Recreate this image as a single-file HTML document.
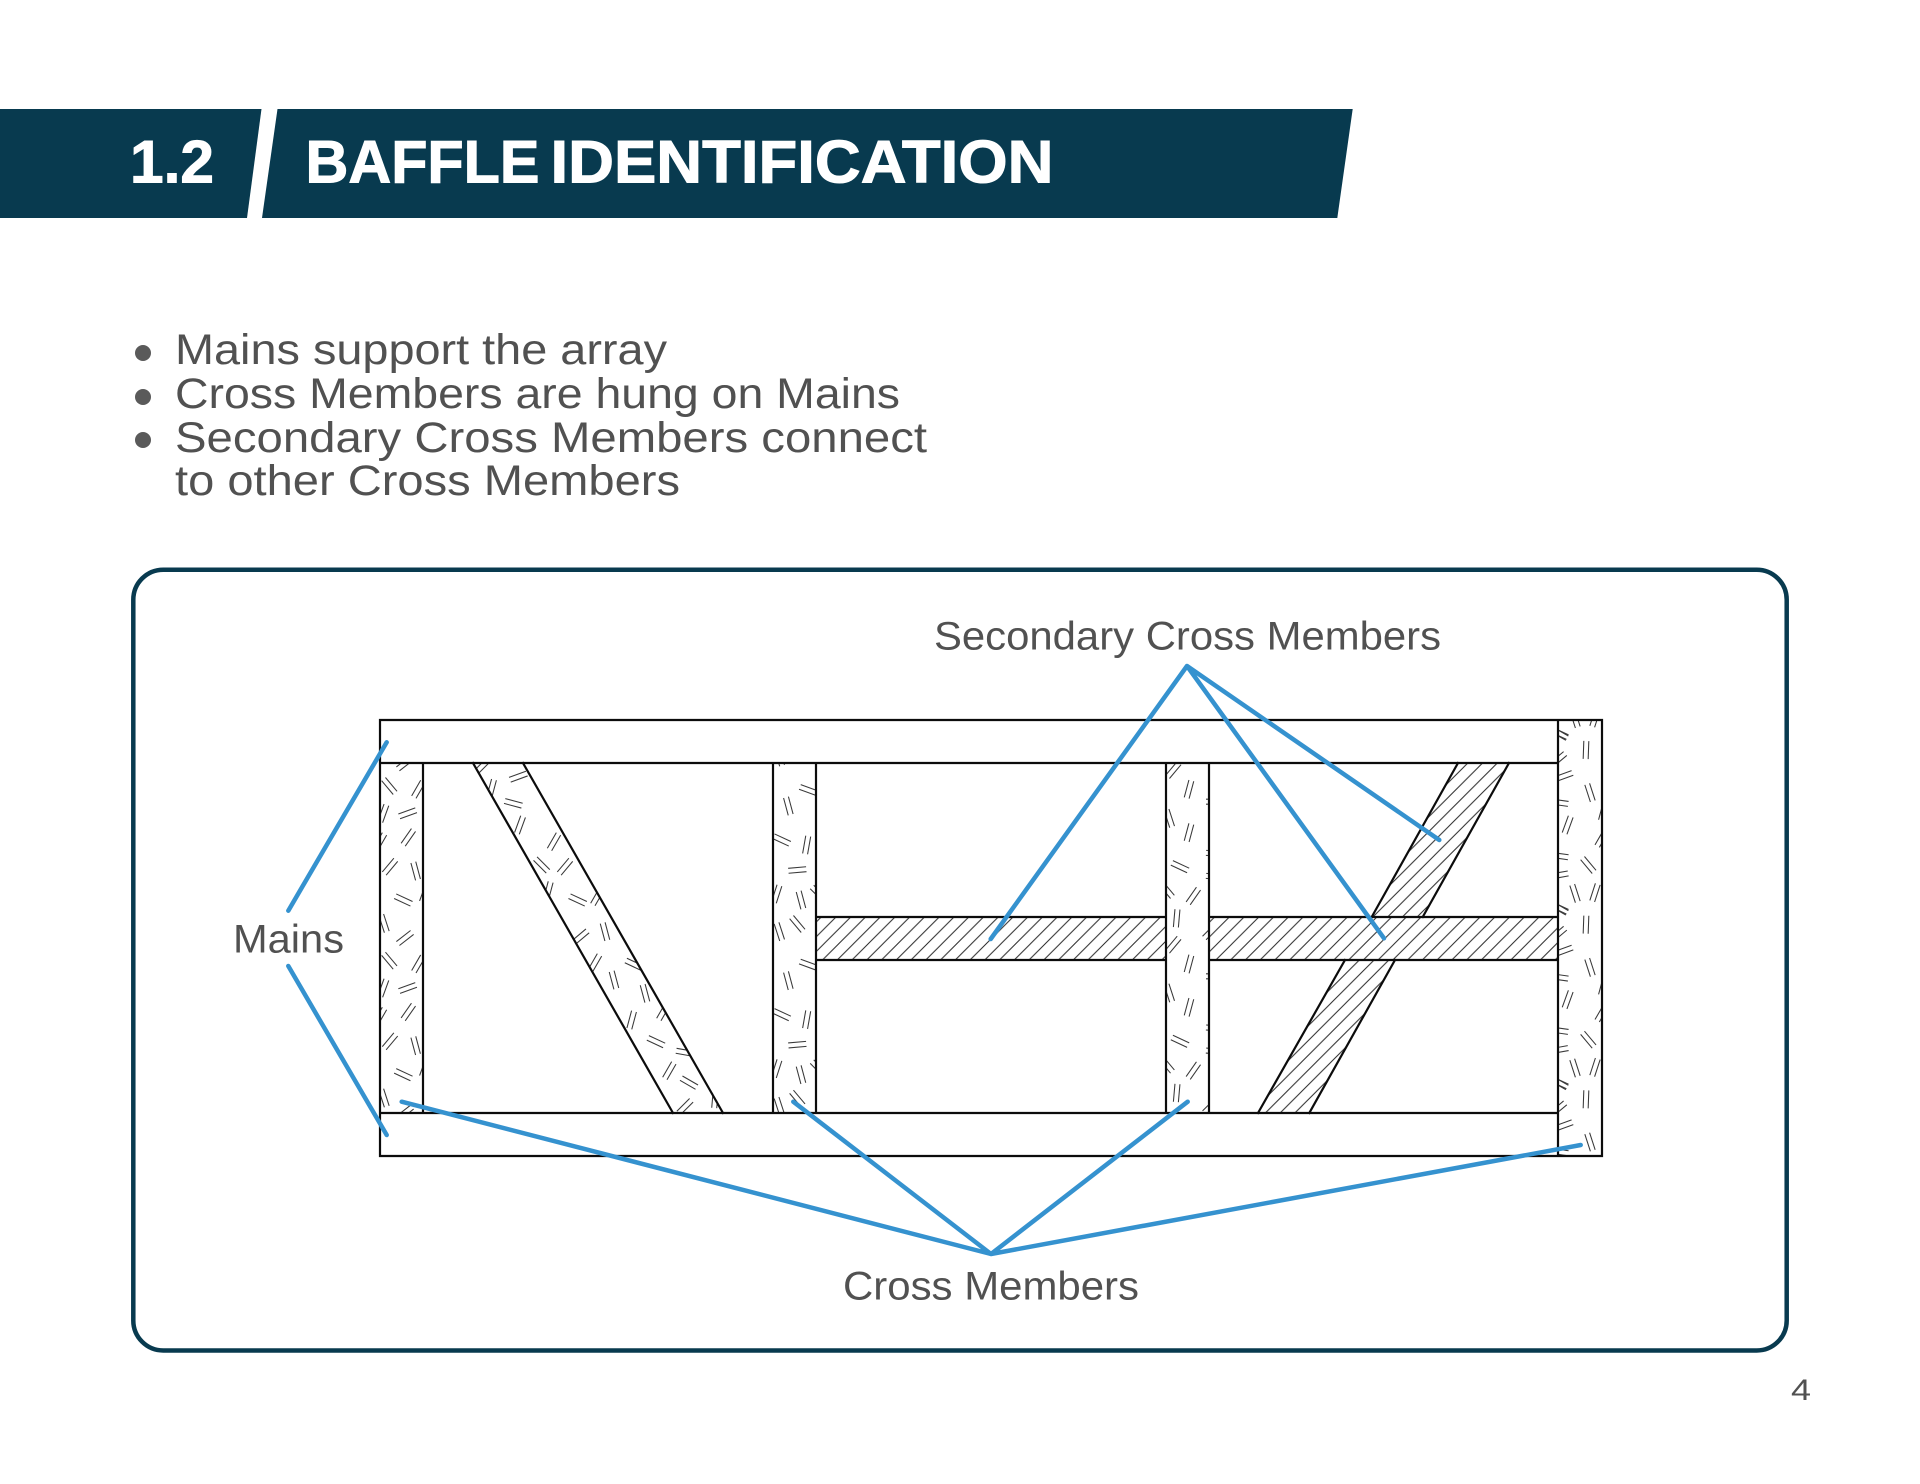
<!DOCTYPE html>
<html lang="en">
<head>
<meta charset="utf-8">
<title>Baffle Identification</title>
<style>
html,body{margin:0;padding:0;background:#fff;width:1920px;height:1484px;overflow:hidden}
svg{display:block}
text{font-family:"Liberation Sans",Arial,sans-serif}
.b{font-size:43px;fill:#515151}
.l{font-size:40px;fill:#515151}
.h{font-size:60px;font-weight:700;fill:#fff;stroke:#fff;stroke-width:1}
.o{stroke:#0c0c0c;stroke-width:2.2;fill:none;stroke-linecap:square}
.c{stroke:#3592cf;stroke-width:4.5;fill:none;stroke-linecap:round;stroke-linejoin:round}
</style>
</head>
<body>
<svg xmlns="http://www.w3.org/2000/svg" width="1920" height="1484" viewBox="0 0 1920 1484">
<defs>
<pattern id="h1" patternUnits="userSpaceOnUse" x="-2.25" y="0" width="14.75" height="14.75"><path d="M-2 16.75L16.75-2M-2 2L2-2M12.75 16.75L16.75 12.75" stroke="#2a2a2a" stroke-width="1" fill="none"/></pattern>
<pattern id="h2" patternUnits="userSpaceOnUse" x="-7.15" y="0" width="14.75" height="14.75"><path d="M-2 16.75L16.75-2M-2 2L2-2M12.75 16.75L16.75 12.75" stroke="#2a2a2a" stroke-width="1" fill="none"/></pattern>
<pattern id="h3" patternUnits="userSpaceOnUse" x="-11.15" y="0" width="14.75" height="14.75"><path d="M-2 16.75L16.75-2M-2 2L2-2M12.75 16.75L16.75 12.75" stroke="#2a2a2a" stroke-width="1" fill="none"/></pattern>
<g id="d"><path d="M-27-7.5H27M-27 7.5H27" fill="none" stroke="#3a3a3a" stroke-width="3.2"/></g>
<clipPath id="k1"><rect x="60" y="190" width="130" height="1048"/></clipPath>
<clipPath id="k2"><rect x="1238" y="190" width="130" height="1048"/></clipPath>
<clipPath id="k3"><rect x="75" y="190" width="132" height="1048"/></clipPath>
<clipPath id="k4"><rect x="1255" y="60" width="130" height="1308"/></clipPath>
<clipPath id="k5"><polygon points="338,190 490,190 1092,1238 940,1238"/></clipPath>
<g id="p1">
<use href="#d" transform="translate(88 258) rotate(50)"/><use href="#d" transform="translate(175 268) rotate(-60)"/><use href="#d" transform="translate(70 340) rotate(-70)"/><use href="#d" transform="translate(143 340) rotate(-20)"/><use href="#d" transform="translate(145 412) rotate(-55)"/><use href="#d" transform="translate(60 425) rotate(-60)"/><use href="#d" transform="translate(90 500) rotate(-50)"/><use href="#d" transform="translate(167 513) rotate(75)"/><use href="#d" transform="translate(130 600) rotate(25)"/><use href="#d" transform="translate(195 580) rotate(-70)"/><use href="#d" transform="translate(72 670) rotate(72)"/><use href="#d" transform="translate(135 714) rotate(-38)"/>
</g>
<g id="p2">
<use href="#d" transform="translate(1345 270) rotate(20)"/><use href="#d" transform="translate(1285 318) rotate(75)"/><use href="#d" transform="translate(1265 420) rotate(25)"/><use href="#d" transform="translate(1340 435) rotate(-80)"/><use href="#d" transform="translate(1312 510) rotate(-5)"/><use href="#d" transform="translate(1250 582) rotate(-72)"/><use href="#d" transform="translate(1323 600) rotate(75)"/><use href="#d" transform="translate(1375 580) rotate(45)"/><use href="#d" transform="translate(1312 672) rotate(50)"/><use href="#d" transform="translate(1258 695) rotate(72)"/>
</g>
<g id="p3">
<use href="#d" transform="translate(100 210) rotate(-50)"/><use href="#d" transform="translate(147 268) rotate(-75)"/><use href="#d" transform="translate(225 305) rotate(0)"/><use href="#d" transform="translate(88 355) rotate(72)"/><use href="#d" transform="translate(147 398) rotate(-75)"/><use href="#d" transform="translate(225 460) rotate(3)"/><use href="#d" transform="translate(120 500) rotate(25)"/><use href="#d" transform="translate(225 530) rotate(5)"/><use href="#d" transform="translate(80 570) rotate(50)"/><use href="#d" transform="translate(160 588) rotate(-55)"/><use href="#d" transform="translate(110 655) rotate(-85)"/><use href="#d" transform="translate(212 695) rotate(-45)"/>
</g>
<g id="p4">
<use href="#d" transform="translate(1258 100) rotate(25)"/><use href="#d" transform="translate(1338 150) rotate(-88)"/><use href="#d" transform="translate(1255 178) rotate(-40)"/><use href="#d" transform="translate(1272 228) rotate(-20)"/><use href="#d" transform="translate(1350 278) rotate(72)"/><use href="#d" transform="translate(1258 308) rotate(8)"/><use href="#d" transform="translate(1283 375) rotate(-70)"/><use href="#d" transform="translate(1390 335) rotate(-75)"/><use href="#d" transform="translate(1385 415) rotate(-60)"/><use href="#d" transform="translate(1258 468) rotate(8)"/><use href="#d" transform="translate(1345 495) rotate(50)"/><use href="#d" transform="translate(1258 525) rotate(-10)"/><use href="#d" transform="translate(1305 580) rotate(72)"/><use href="#d" transform="translate(1365 578) rotate(-72)"/><use href="#d" transform="translate(1258 625) rotate(30)"/>
</g>
</defs>

<rect width="1920" height="1484" fill="#fff"/>

<!-- header -->
<polygon points="0,109 261.5,109 247,218 0,218" fill="#083a4f"/>
<polygon points="277.5,109 1352.7,109 1337.3,218 262,218" fill="#083a4f"/>
<text class="h" x="130" y="182.5" textLength="84" lengthAdjust="spacingAndGlyphs">1.2</text>
<text class="h" x="305.5" y="182.5" textLength="234" lengthAdjust="spacingAndGlyphs">BAFFLE</text>
<text class="h" x="550.5" y="182.5" textLength="503" lengthAdjust="spacingAndGlyphs">IDENTIFICATION</text>

<!-- bullets -->
<circle cx="143" cy="353" r="8" fill="#5a5a5a"/>
<circle cx="143" cy="397" r="8" fill="#5a5a5a"/>
<circle cx="143" cy="440" r="8" fill="#5a5a5a"/>
<text class="b" x="175" y="364" textLength="492" lengthAdjust="spacingAndGlyphs">Mains support the array</text>
<text class="b" x="175" y="408" textLength="725" lengthAdjust="spacingAndGlyphs">Cross Members are hung on Mains</text>
<text class="b" x="175" y="452" textLength="752" lengthAdjust="spacingAndGlyphs">Secondary Cross Members connect</text>
<text class="b" x="175" y="495" textLength="505" lengthAdjust="spacingAndGlyphs">to other Cross Members</text>

<!-- panel -->
<rect x="133.3" y="569.7" width="1653.4" height="780.8" rx="30" ry="30" fill="#fff" stroke="#083a4f" stroke-width="4.5"/>

<!-- hatch fills -->
<rect x="816" y="917" width="350" height="43" fill="url(#h1)"/>
<rect x="1209" y="917" width="349" height="43" fill="url(#h2)"/>
<polygon points="1458,763 1509,763 1422.7,917 1371.7,917" fill="url(#h3)"/>
<polygon points="1345,960 1395,960 1309.3,1113 1258,1113" fill="url(#h3)"/>

<!-- dash textures -->
<g transform="translate(360 700) scale(.33333)">
<g clip-path="url(#k1)"><use href="#p1" transform="translate(0 -524)"/><use href="#p1"/><use href="#p1" transform="translate(0 524)"/></g>
<g clip-path="url(#k2)"><use href="#p2" transform="translate(0 -524)"/><use href="#p2"/><use href="#p2" transform="translate(0 524)"/></g>
<g clip-path="url(#k5)">
<use href="#d" transform="translate(360 205) rotate(-45)"/><use href="#d" transform="translate(475 230) rotate(-20)"/><use href="#d" transform="translate(395 265) rotate(-75)"/><use href="#d" transform="translate(460 310) rotate(15)"/><use href="#d" transform="translate(480 375) rotate(-70)"/><use href="#d" transform="translate(582 425) rotate(-60)"/><use href="#d" transform="translate(545 495) rotate(45)"/><use href="#d" transform="translate(615 500) rotate(-50)"/><use href="#d" transform="translate(565 572) rotate(-75)"/><use href="#d" transform="translate(653 600) rotate(25)"/><use href="#d" transform="translate(712 590) rotate(-60)"/><use href="#d" transform="translate(735 695) rotate(75)"/><use href="#d" transform="translate(662 710) rotate(-40)"/><use href="#d" transform="translate(705 788) rotate(-60)"/><use href="#d" transform="translate(822 793) rotate(25)"/><use href="#d" transform="translate(762 840) rotate(75)"/><use href="#d" transform="translate(855 880) rotate(75)"/><use href="#d" transform="translate(815 960) rotate(-75)"/><use href="#d" transform="translate(910 935) rotate(-60)"/><use href="#d" transform="translate(888 1025) rotate(25)"/><use href="#d" transform="translate(975 1057) rotate(10)"/><use href="#d" transform="translate(928 1112) rotate(-60)"/><use href="#d" transform="translate(987 1148) rotate(30)"/><use href="#d" transform="translate(975 1220) rotate(-45)"/><use href="#d" transform="translate(1065 1197) rotate(-85)"/>
</g>
</g>
<g transform="translate(1140 700) scale(.33333)">
<g clip-path="url(#k3)"><use href="#p3"/><use href="#p3" transform="translate(0 524)"/></g>
<g clip-path="url(#k4)"><use href="#p4" transform="translate(0 -524)"/><use href="#p4"/><use href="#p4" transform="translate(0 524)"/><use href="#p4" transform="translate(0 1048)"/></g>
</g>

<!-- structure outlines -->
<path class="o" d="M380 720H1602V1156H380ZM380 763H1558M380 1113H1558M423 763V1113M773 763V1113M816 763V1113M1166 763V1113M1209 763V1113M1558 720V1156M816 917H1166M816 960H1166M1209 917H1558M1209 960H1558"/>
<path class="o" d="M473 763L673 1113M523 763L723 1113M1458 763L1371.7 917M1509 763L1422.7 917M1345 960L1258 1113M1395 960L1309.3 1113"/>

<!-- leaders -->
<path class="c" d="M386.7 742.3L288.3 910.7M288.3 966L386.7 1135"/>
<path class="c" d="M990.7 939L1187 666L1384 938.3M1187 666L1439.3 840"/>
<path class="c" d="M401.7 1101.7L991 1254L793.3 1101.7M991 1254L1187.7 1101.7M991 1254L1580.7 1145"/>

<!-- labels -->
<text class="l" x="233" y="952.5" textLength="111" lengthAdjust="spacingAndGlyphs">Mains</text>
<text class="l" x="934" y="649.5" textLength="507" lengthAdjust="spacingAndGlyphs">Secondary Cross Members</text>
<text class="l" x="843" y="1299.5" textLength="296" lengthAdjust="spacingAndGlyphs">Cross Members</text>
<text x="1791" y="1400" font-size="30" fill="#515151" textLength="20" lengthAdjust="spacingAndGlyphs">4</text>
</svg>
</body>
</html>
